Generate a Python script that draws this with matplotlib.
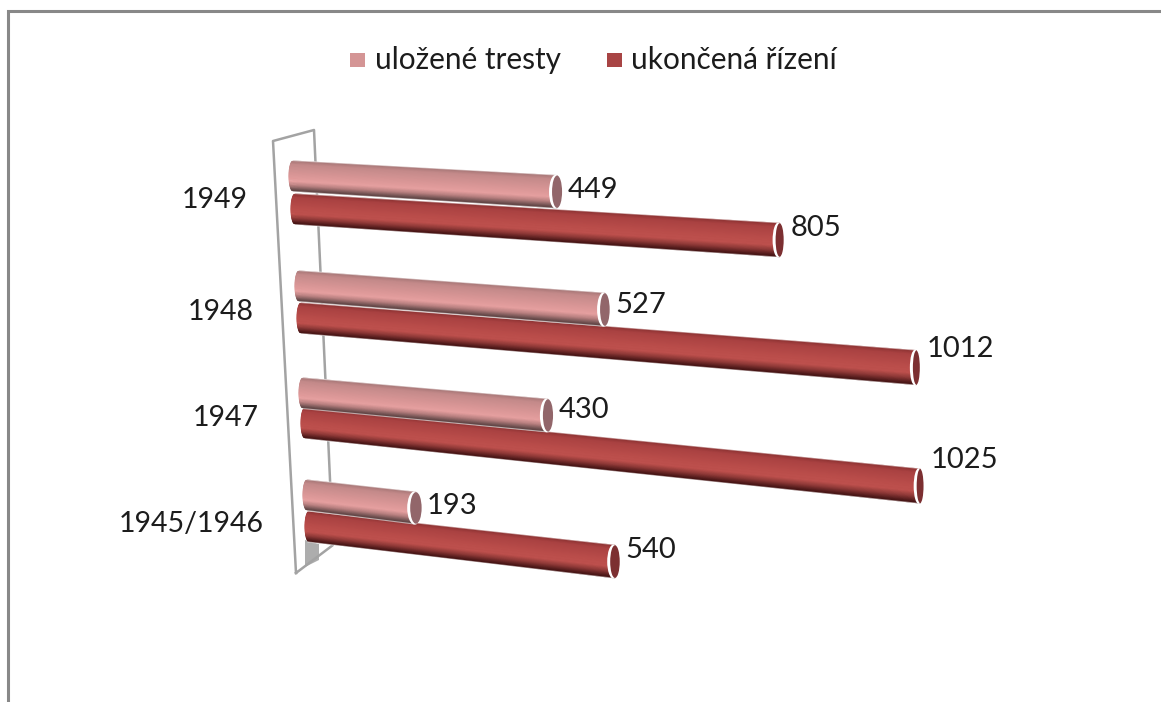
import numpy as np
import matplotlib
matplotlib.use("Agg")
import matplotlib.pyplot as plt
from matplotlib.colors import LinearSegmentedColormap
from matplotlib.patches import Ellipse, Polygon

plt.rcParams['font.family'] = ['Lato', 'DejaVu Sans']

# data, top row first
years = ["1949", "1948", "1947", "1945/1946"]
tresty = [449, 527, 430, 193]
rizeni = [805, 1012, 1025, 540]
series_names = ["uložené tresty", "ukončená řízení"]

# layout of the fake 3d bars, in pixels: [tresty, rizeni] for each row
base_x = [[289, 291], [295, 297], [299, 301], [303, 305]]
base_y = [[176, 209], [286, 318], [393, 423], [495, 526.5]]
x_scale = [[.597, .607], [.588, .612], [.579, .604], [.585, .574]]
y_slope = [[.035, .0385], [.0446, .049], [.052, .0615], [.067, .065]]
label_dy = [[-2, -12], [-5, -19], [-5, -26], [-2, -12]]
year_right = [248, 254, 259, 264]
year_y = [200.5, 311.5, 418.5, 523.5]

pink = LinearSegmentedColormap.from_list("pink", [
    (0, "#a87878"), (.12, "#c48a8a"), (.5, "#dc9898"), (.68, "#e6a0a0"),
    (.82, "#b88080"), (.93, "#7d5a5a"), (1, "#5f4444")])
red = LinearSegmentedColormap.from_list("red", [
    (0, "#8e3434"), (.12, "#aa4242"), (.5, "#bb4e4b"), (.68, "#bd504d"),
    (.82, "#8f3a38"), (.93, "#5f2222"), (1, "#451414")])
cmaps = [pink, red]
cap_colors = ["#92666a", "#7c2f31"]
legend_colors = ["#d49595", "#a84444"]


def draw_cylinder(ax, value, bx, by, kx, ky, cmap, cap_color, z):
    """One bar as a mesh, the shading runs across the bar"""
    ex = bx + value * kx
    ey = by + value * ky
    r0 = 15
    r1 = 15.5 + value * 0.0015
    cap_w = 12.5 - value * 0.0055

    t = np.linspace(-1, 1, 41)
    # the far end of the bar is round
    left = bx + 4 * (1 - np.sqrt(1 - t ** 2))
    X = np.column_stack([left, np.full_like(t, ex)])
    Y = np.column_stack([by + t * r0, ey + t * r1])
    C = np.column_stack([t, t])
    ax.pcolormesh(X, Y, C, cmap=cmap, vmin=-1, vmax=1, shading="gouraud", zorder=z)

    # light edges along the bar
    for side in (-1, 1):
        ax.plot([bx + 3, ex], [by + side * (r0 + .5), ey + side * (r1 + .5)],
                color="white", lw=0.8, alpha=0.55, zorder=z)

    ax.add_patch(Ellipse((ex - 1.5, ey), cap_w + 3, 2 * r1 + 1.5,
                         fc="white", ec="none", zorder=z))
    ax.add_patch(Ellipse((ex, ey), cap_w, 2 * r1, fc=cap_color, ec="none", zorder=z))
    return ex, ey


fig = plt.figure(figsize=(11.61, 7.02), dpi=100)
ax = fig.add_axes([0, 0, 1, 1])
ax.set_xlim(0, 1161)
ax.set_ylim(702, 0)
ax.axis("off")

# outer frame, only left and top are left in the picture
ax.plot([7.5, 7.5, 1161], [702, 10.5, 10.5], color="#888888", lw=2.2,
        solid_joinstyle="miter")

# the side wall
wall = "#a3a3a3"
ax.add_patch(Polygon([(305, 540), (319, 544), (319, 560), (305, 567)],
                     fc="#adadad", ec="none", zorder=1))
ax.plot([296, 273, 314, 333, 296], [573, 141, 130, 545, 573], color=wall, lw=1.8, zorder=1)

for row, year in enumerate(years):
    values = [tresty[row], rizeni[row]]
    # rizeni first, the tresty bar lies over it
    for s in (1, 0):
        ex, ey = draw_cylinder(ax, values[s], base_x[row][s], base_y[row][s],
                               x_scale[row][s], y_slope[row][s],
                               cmaps[s], cap_colors[s], 2 + row + (1 - s) * 0.5)
        ax.text(ex + 10.5, ey + label_dy[row][s], str(values[s]), fontsize=21,
                color="#1c1c1c", ha="left", va="center", zorder=10)
    ax.text(year_right[row], year_y[row], year, fontsize=20.5, color="#1c1c1c",
            ha="right", va="center", zorder=10)

# legend
for name, color, sx, tx in zip(series_names, legend_colors, [350, 607], [375, 631]):
    ax.add_patch(Polygon([(sx, 53), (sx + 15, 53), (sx + 15, 67), (sx, 67)],
                         fc=color, ec="none"))
    ax.text(tx, 60, name, fontsize=21.4, color="#1c1c1c", ha="left", va="center")

plt.savefig("out.png", dpi=100)
